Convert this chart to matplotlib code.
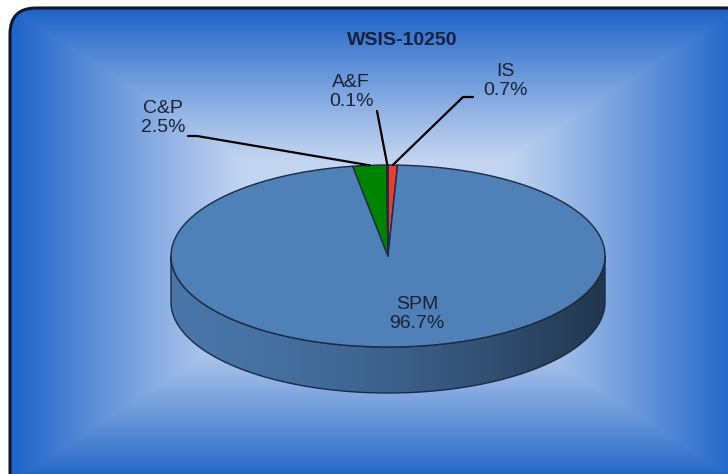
import numpy as np
import matplotlib
matplotlib.use("Agg")
import matplotlib.pyplot as plt
from matplotlib.patches import Polygon, FancyBboxPatch

#========= Data =========
title = "WSIS-10250"
labels = ["IS", "SPM", "C&P", "A&F"]          # clockwise from 12 o'clock
shares = [0.7, 96.7, 2.5, 0.1]                # percent
colors = ["#ee3b30", "#5080b8", "#008400", "#1f4f9a"]

#========= Layout (pixels) =========
W, H = 728, 474
cx, cy = 388, 256          # pie centre
ra, rb = 217, 91           # ellipse radii
depth = 46                 # thickness of the pie
edge = "#1a2a44"
txt = "#1b2233"

# label block centres and leader lines
label_pos = {
    "IS": (505, 81),
    "SPM": (417, 314),
    "C&P": (163, 118),
    "A&F": (351, 92),
}
leader_start = {
    "IS": [(473, 97), (463, 97)],
    "C&P": [(188, 136), (197, 136)],
    "A&F": [(377, 111)],
}


def rim(theta):
    """Point on the top rim, theta in degrees clockwise from the top."""
    t = np.radians(theta)
    return cx + ra * np.sin(t), cy - rb * np.cos(t)


fig = plt.figure(figsize=(W / 100, H / 100), dpi=100)
ax = fig.add_axes([0, 0, 1, 1])
ax.set_xlim(0, W)
ax.set_ylim(H, 0)
ax.axis("off")

#========= Background panel =========
yy, xx = np.mgrid[0:H, 0:W] + 0.5
t = np.maximum(np.abs(xx - 375) / 365, np.abs(yy - 245) / 237)
s = np.clip((t - 0.35) / 0.65, 0, 1) ** 1.1
light = np.array([196, 213, 241]) / 255
dark = np.array([28, 98, 200]) / 255
bg = light[None, None, :] * (1 - s[..., None]) + dark[None, None, :] * s[..., None]

panel = FancyBboxPatch((10, 8), 760, 520, boxstyle="round,pad=0,rounding_size=26",
                       facecolor="none", edgecolor="#0d1830", linewidth=2.2, zorder=2)
ax.add_patch(panel)
im = ax.imshow(bg, extent=(0, W, H, 0), zorder=1, interpolation="bilinear")
im.set_clip_path(panel)

#========= 3D pie =========
bounds = np.concatenate([[0], np.cumsum(shares)]) * 3.6

# side walls (front half only)
for lab, col, a0, a1 in zip(labels, colors, bounds[:-1], bounds[1:]):
    lo, hi = max(a0, 90), min(a1, 270)
    if hi <= lo:
        continue
    th = np.linspace(lo, hi, 200)
    top = np.array([rim(v) for v in th])
    bot = top + [0, depth]
    side = Polygon(np.vstack([top, bot[::-1]]), closed=True, facecolor="none",
                   edgecolor=edge, linewidth=1.0, zorder=4)
    ax.add_patch(side)
    u = np.clip((np.arange(W) + 0.5 - (cx - ra)) / (2 * ra), 0, 1)
    shade = 0.92 - 0.5 * u ** 1.6
    base = np.array(matplotlib.colors.to_rgb(col))
    strip = np.clip(base[None, :] * shade[:, None], 0, 1)
    img = np.repeat(strip[None, :, :], H, axis=0)
    sim = ax.imshow(img, extent=(0, W, H, 0), zorder=3, interpolation="bilinear")
    sim.set_clip_path(side)

# top face
for lab, col, a0, a1 in zip(labels, colors, bounds[:-1], bounds[1:]):
    th = np.linspace(a0, a1, max(3, int((a1 - a0) * 2)))
    pts = [(cx, cy)] + [rim(v) for v in th]
    ax.add_patch(Polygon(pts, closed=True, facecolor=col, edgecolor=edge,
                         linewidth=1.0, joinstyle="round", zorder=5))

#========= Labels =========
ax.text(402, 40, title, ha="center", va="center", fontsize=14, fontweight="bold",
        color="#15213d", family="Liberation Sans", zorder=8)

for lab, val, a0, a1 in zip(labels, shares, bounds[:-1], bounds[1:]):
    x, y = label_pos[lab]
    ax.text(x, y, f"{lab}\n{val:.1f}%", ha="center", va="center", fontsize=14,
            color=txt, family="Liberation Sans", linespacing=1.2, zorder=8)
    if lab in leader_start:
        tip = rim((a0 + a1) / 2)
        path = np.array(leader_start[lab] + [tip])
        ax.plot(path[:, 0], path[:, 1], color="black", lw=1.6, zorder=7,
                solid_capstyle="round")

fig.savefig("out.png", dpi=100)
